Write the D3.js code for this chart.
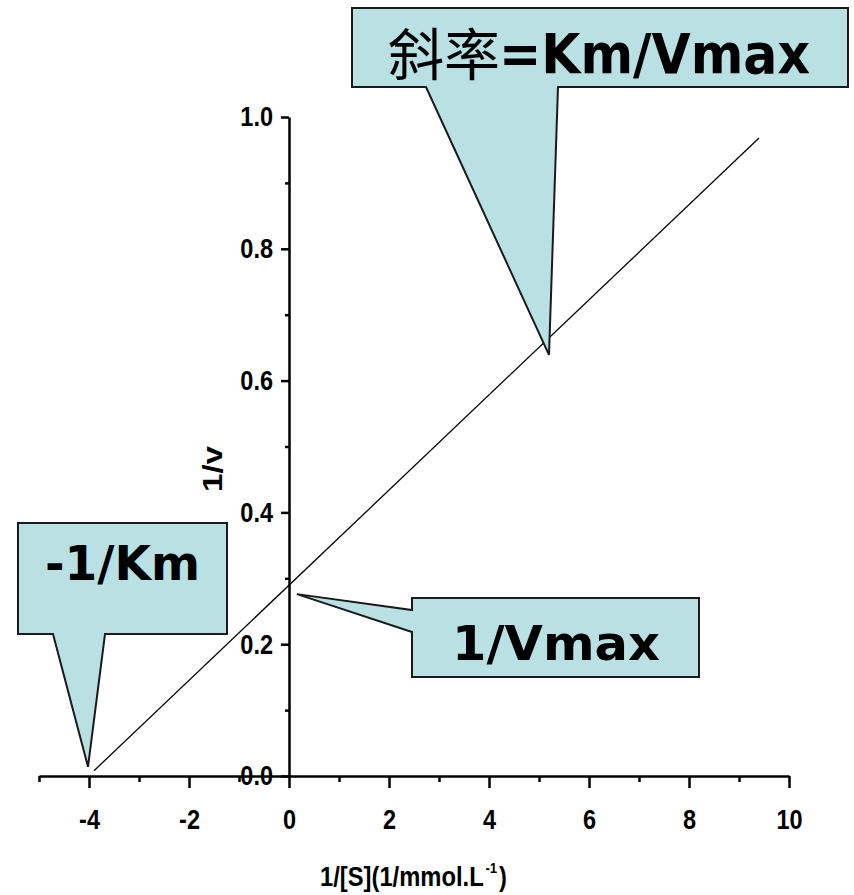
<!DOCTYPE html>
<html lang="zh">
<head>
    <meta charset="UTF-8">
    <title>Lineweaver-Burk</title>
    <script src="https://d3js.org/d3.v7.min.js"></script>
    <style>
        body { margin: 0; background: #fff; }
        svg { display: block; }
        .tick text, .axis-title {
            font-family: "Liberation Sans", Arial, sans-serif;
            font-weight: bold;
        }
        .callout-text {
            font-family: "DejaVu Sans", Verdana, sans-serif;
            font-weight: bold;
        }
        .cjk {
            font-family: "Noto Sans CJK SC", sans-serif;
            font-weight: normal;
        }
    </style>
</head>
<body>
<svg id="chart" width="854" height="895"></svg>
<script>
// data
const xMajorTicks = [-4, -2, 0, 2, 4, 6, 8, 10];
const xMinorTicks = [-5, -3, -1, 1, 3, 5, 7, 9];
const yMajorTicks = [0.0, 0.2, 0.4, 0.6, 0.8, 1.0];
const yMinorTicks = [0.1, 0.3, 0.5, 0.7, 0.9];
const lineX = [-3.9, 9.4];
const lineY = [0.008, 0.968];
const calloutLabels = ["斜率=Km/Vmax", "-1/Km", "1/Vmax"];
const calloutTipX = [5.2, -4.02, 0.16];
const calloutTipY = [0.639, 0.014, 0.276];

// scales
const x = d3.scaleLinear().domain([-5, 10]).range([39, 789]);
const y = d3.scaleLinear().domain([0, 1]).range([776, 117]);

const svg = d3.select("#chart");

// squeeze text to look like a narrow font
function condense(sel, k) {
    sel.each(function() {
        const w = this.getComputedTextLength();
        if (w > 0) {
            d3.select(this)
                .attr("textLength", w * k)
                .attr("lengthAdjust", "spacingAndGlyphs");
        }
    });
}

// the straight line
const line = d3.line().x(d => x(d[0])).y(d => y(d[1]));
svg.append("path")
    .datum(d3.zip(lineX, lineY))
    .attr("d", line)
    .attr("fill", "none")
    .attr("stroke", "#000")
    .attr("stroke-width", 1.3);

// axes
function styleAxis(g) {
    g.select(".domain").attr("stroke", "#000").attr("stroke-width", 2.5);
    g.selectAll(".tick line").attr("stroke", "#000").attr("stroke-width", 2.5);
    g.selectAll(".tick text").attr("fill", "#000").attr("font-size", 28);
}

svg.append("g")
    .attr("transform", `translate(0,${y(0)})`)
    .call(d3.axisBottom(x).tickValues(xMinorTicks).tickSize(6).tickSizeOuter(0).tickFormat(""))
    .call(styleAxis);
svg.append("g")
    .attr("transform", `translate(0,${y(0)})`)
    .call(d3.axisBottom(x).tickValues(xMajorTicks).tickSize(12).tickSizeOuter(0).tickPadding(21)
        .tickFormat(d => String(d)))
    .call(styleAxis)
    .call(g => g.select(".domain").remove())
    .call(g => condense(g.selectAll(".tick text"), 0.84));

svg.append("g")
    .attr("transform", `translate(${x(0)},0)`)
    .call(d3.axisLeft(y).tickValues(yMinorTicks).tickSize(4).tickSizeOuter(0).tickFormat(""))
    .call(styleAxis);
svg.append("g")
    .attr("transform", `translate(${x(0)},0)`)
    .call(d3.axisLeft(y).tickValues(yMajorTicks).tickSize(8).tickSizeOuter(0).tickPadding(8)
        .tickFormat(d3.format(".1f")))
    .call(styleAxis)
    .call(g => g.select(".domain").remove())
    .call(g => condense(g.selectAll(".tick text"), 0.84));

// axis titles
svg.append("text")
    .attr("class", "axis-title")
    .attr("transform", "translate(222,469) rotate(-90)")
    .attr("text-anchor", "middle")
    .attr("font-size", 28)
    .attr("textLength", 46)
    .attr("lengthAdjust", "spacingAndGlyphs")
    .text("1/v");

// x title with superscript, narrowed with a horizontal scale
const xt = svg.append("text")
    .attr("class", "axis-title")
    .attr("transform", "translate(320,886) scale(0.88,1)")
    .attr("font-size", 27);
xt.append("tspan").text("1/[S](1/mmol.L");
xt.append("tspan").attr("font-size", 15).attr("dx", 2).attr("dy", -13).text("-1");
xt.append("tspan").attr("dx", 2).attr("dy", 13).text(")");

// callouts (box layout in pixels, tip from data through scales)
const boxes = [
    { x0: 352, y0: 8, x1: 848, y1: 87, side: "bottom", a: 426, b: 558 },
    { x0: 18, y0: 523, x1: 227, y1: 634, side: "bottom", a: 53, b: 105 },
    { x0: 412, y0: 598, x1: 699, y1: 677, side: "left", a: 610, b: 632 }
];

calloutLabels.forEach((label, i) => {
    const bx = boxes[i];
    const tx = x(calloutTipX[i]), ty = y(calloutTipY[i]);
    const p = d3.path();
    p.moveTo(bx.x0, bx.y0);
    p.lineTo(bx.x1, bx.y0);
    p.lineTo(bx.x1, bx.y1);
    if (bx.side === "bottom") {
        p.lineTo(bx.b, bx.y1);
        p.lineTo(tx, ty);
        p.lineTo(bx.a, bx.y1);
        p.lineTo(bx.x0, bx.y1);
    } else {
        p.lineTo(bx.x0, bx.y1);
        p.lineTo(bx.x0, bx.b);
        p.lineTo(tx, ty);
        p.lineTo(bx.x0, bx.a);
    }
    p.closePath();
    svg.append("path")
        .attr("d", p.toString())
        .attr("fill", "#b9e0e3")
        .attr("stroke", "#1a1a1a")
        .attr("stroke-width", 2)
        .attr("stroke-linejoin", "miter");
});

// callout texts
svg.append("text")
    .attr("class", "cjk")
    .attr("x", 388)
    .attr("y", 75)
    .attr("font-size", 56)
    .text(calloutLabels[0].slice(0, 2));
svg.append("text")
    .attr("class", "callout-text")
    .attr("x", 499)
    .attr("y", 73)
    .attr("font-size", 55)
    .attr("textLength", 311)
    .attr("lengthAdjust", "spacingAndGlyphs")
    .text(calloutLabels[0].slice(2));
svg.append("text")
    .attr("class", "callout-text")
    .attr("x", 45)
    .attr("y", 580)
    .attr("font-size", 48)
    .attr("textLength", 155)
    .attr("lengthAdjust", "spacingAndGlyphs")
    .text(calloutLabels[1]);
svg.append("text")
    .attr("class", "callout-text")
    .attr("x", 452)
    .attr("y", 660)
    .attr("font-size", 48)
    .attr("textLength", 208)
    .attr("lengthAdjust", "spacingAndGlyphs")
    .text(calloutLabels[2]);
</script>
</body>
</html>
